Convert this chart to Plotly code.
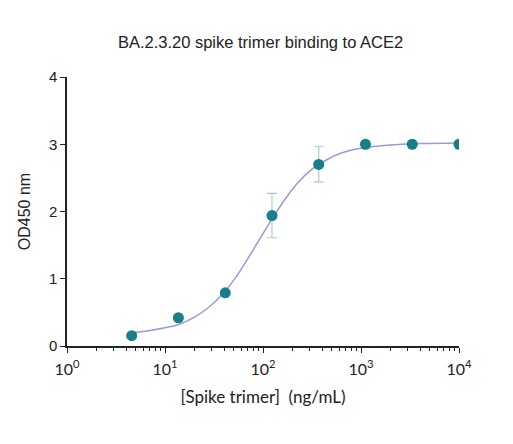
import plotly.graph_objects as go

# Data
conc = [4.57, 13.7, 41.2, 123.5, 370.4, 1111, 3333, 10000]  # ng/mL
od450 = [0.153, 0.42, 0.79, 1.94, 2.70, 3.00, 3.00, 3.00]
err_plus = [0, 0, 0, 0.33, 0.27, 0, 0, 0]
err_minus = [0, 0, 0, 0.33, 0.26, 0, 0, 0]

# Fitted curve
curve_conc = [4.57, 6.31, 10.0, 13.8, 20.0, 28.2, 39.8, 56.2, 79.4, 112.2,
              158.5, 223.9, 316.2, 446.7, 631.0, 1000, 1995, 3981, 10000]
curve_od = [0.20, 0.22, 0.27, 0.32, 0.43, 0.58, 0.79, 1.08, 1.43, 1.79,
            2.13, 2.42, 2.63, 2.77, 2.87, 2.94, 2.99, 3.01, 3.02]

x_tickvals = [1, 10, 100, 1000, 10000]
x_ticktext = ["10<sup>0</sup>", "10<sup>1</sup>", "10<sup>2</sup>", "10<sup>3</sup>", "10<sup>4</sup>"]
x_minor_vals = [m * d for d in [1, 10, 100, 1000] for m in range(2, 10)]
y_tickvals = [0, 1, 2, 3, 4]

fig = go.Figure()
fig.add_trace(go.Scatter(
    x=curve_conc, y=curve_od, mode="lines", line=dict(color="#9a9ad8", width=1.5, shape="spline"),
    hoverinfo="skip", showlegend=False))
fig.add_trace(go.Scatter(
    x=conc, y=od450, mode="markers",
    marker=dict(color="#167f8a", size=11),
    error_y=dict(type="data", array=err_plus, arrayminus=err_minus, color="#a9cfd0", thickness=1.2, width=5),
    showlegend=False))

fig.update_layout(
    width=505, height=436,
    margin=dict(l=59, r=54, t=69, b=98, autoexpand=False),
    paper_bgcolor="white", plot_bgcolor="white",
    title=dict(text="BA.2.3.20 spike trimer binding to ACE2", x=0.5, xanchor="center", y=0.9225, yanchor="middle",
               font=dict(family="Liberation Sans", size=16.5, color="#222"), automargin=False),
    xaxis=dict(type="log", range=[0, 4], tickvals=x_tickvals, ticktext=x_ticktext, automargin=False,
               showline=True, linecolor="#222", linewidth=1.5, ticks="outside", ticklen=5,
               tickcolor="#222", tickwidth=1.3, showgrid=False, zeroline=False, ticklabelstandoff=3,
               minor=dict(ticks="outside", ticklen=3, tickcolor="#222", tickwidth=1, showgrid=False,
                          tickmode="array", tickvals=x_minor_vals),
               tickfont=dict(family="Lato", size=16, color="#222"),
               title=dict(text="[Spike trimer]  (ng/mL)", font=dict(family="Lato", size=17, color="#222"), standoff=14)),
    yaxis=dict(range=[0, 4], tickvals=y_tickvals, showline=True, linecolor="#222", linewidth=1.5, automargin=False,
               ticks="outside", ticklen=5, tickcolor="#222", tickwidth=1.3, showgrid=False, zeroline=False,
               tickfont=dict(family="Liberation Sans", size=15, color="#222"),
               title=dict(text="OD450 nm", font=dict(family="Liberation Sans", size=16, color="#222"), standoff=14)),
)

fig.write_html("out.html")
